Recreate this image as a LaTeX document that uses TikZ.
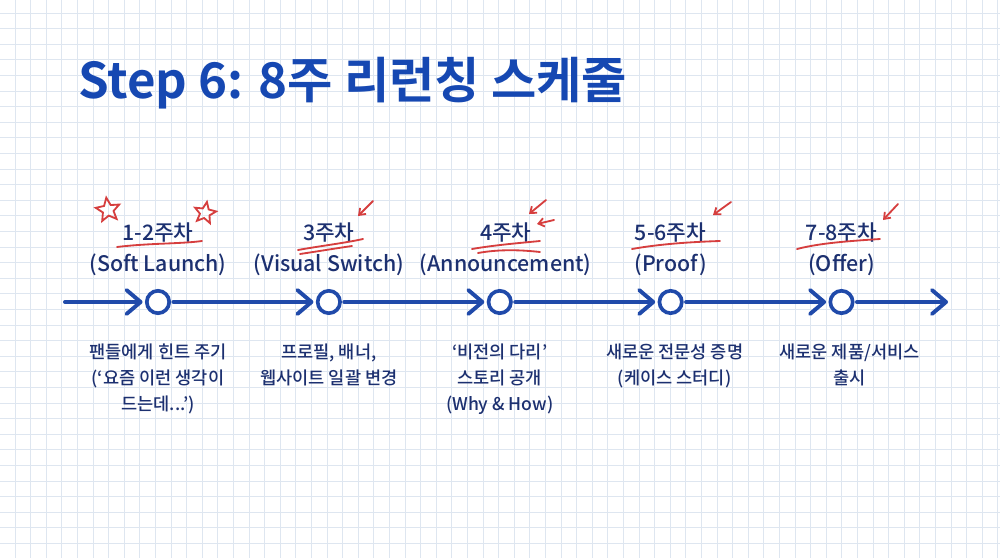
\documentclass[tikz,border=0pt]{standalone}
\usepackage{fontspec}
\setmainfont{Noto Sans CJK KR}[BoldFont={Noto Sans CJK KR Bold}]
\newfontfamily\medfont{Noto Sans CJK KR Medium}
\usepackage{tikz}
\usetikzlibrary{shapes.geometric,arrows.meta,positioning,calc}
\definecolor{titleBlue}{RGB}{22,72,178}
\definecolor{lineBlue}{RGB}{32,74,170}
\definecolor{inkNavy}{RGB}{28,48,112}
\definecolor{markRed}{RGB}{214,62,62}
\definecolor{gridBlue}{RGB}{222,230,240}

\begin{document}
\begin{tikzpicture}[
    x=0.025cm, y=-0.025cm,
    node distance=0.26cm and 3.5cm,
    every node/.style={align=center, inner sep=0pt},
    titleNode/.style={font=\fontsize{35}{42}\selectfont\bfseries, text=titleBlue, anchor=base west},
    stopNode/.style={circle, draw=lineBlue, line width=2.6pt, fill=white, minimum size=0.56cm, outer sep=3pt},
    weekLbl/.style={font=\medfont\fontsize{15.2}{22}\selectfont, text=inkNavy},
    taskLbl/.style={font=\medfont\fontsize{12.5}{18.5}\selectfont, text=inkNavy},
    timeArrow/.style={-{Straight Barb[length=10pt, width=17pt, round]}, line width=2.8pt, draw=lineBlue, line cap=round},
    redMark/.style={draw=markRed, line width=1.3pt, line cap=round},
    redArrow/.style={-{Straight Barb[length=4pt, width=6pt]}, draw=markRed, line width=1.3pt, line cap=round},
    redStar/.style={star, star points=5, star point ratio=2.2, draw=markRed, line width=1.3pt, minimum size=0.62cm}
]

% Paper
\fill[white] (0,0) rectangle (1000,558);
\useasboundingbox (0,0) rectangle (1000,558);
\foreach \gx in {15,30.6,...,1000} \draw[gridBlue, line width=0.5pt] (\gx,0) -- (\gx,558);
\foreach \gy in {13,28.6,...,558} \draw[gridBlue, line width=0.5pt] (0,\gy) -- (1000,\gy);

% Title
\node (title) [titleNode] at (78,99) {Step 6: 8주 리런칭 스케줄};

% Timeline stops
\node (c1) [stopNode] at (158,302) {};
\node (c2) [stopNode, right=of c1] {};
\node (c3) [stopNode, right=of c2] {};
\node (c4) [stopNode, right=of c3] {};
\node (c5) [stopNode, right=of c4] {};
\coordinate (lineStart) at (65,302);
\coordinate (lineEnd) at (948,302);

% Week labels
\node (w1) [weekLbl, above=of c1] {1-2주차\\(Soft Launch)};
\node (w2) [weekLbl, above=of c2] {3주차\\(Visual Switch)};
\node (w3) [weekLbl, above=of c3, xshift=0.15cm] {4주차\\(Announcement)};
\node (w4) [weekLbl, above=of c4] {5-6주차\\(Proof)};
\node (w5) [weekLbl, above=of c5] {7-8주차\\(Offer)};

% Task labels
\node (t1) [taskLbl, below=0.66cm of c1] {팬들에게 힌트 주기\\(‘요즘 이런 생각이\\드는데...’)};
\node (t2) [taskLbl, below=0.66cm of c2] {프로필, 배너,\\웹사이트 일괄 변경};
\node (t3) [taskLbl, below=0.66cm of c3] {‘비전의 다리’\\스토리 공개\\(Why \& How)};
\node (t4) [taskLbl, below=0.66cm of c4, xshift=0.1cm] {새로운 전문성 증명\\(케이스 스터디)};
\node (t5) [taskLbl, below=0.66cm of c5, xshift=0.2cm] {새로운 제품/서비스\\출시};

% Connectors
\draw [timeArrow] (lineStart) -- (c1);
\draw [timeArrow] (c1) -- (c2);
\draw [timeArrow] (c2) -- (c3);
\draw [timeArrow] (c3) -- (c4);
\draw [timeArrow] (c4) -- (c5);
\draw [timeArrow] (c5) -- (lineEnd);

% Red marks
\node (s1) [redStar, rotate=8] at (108,210) {};
\node (s2) [redStar, rotate=-10, minimum size=0.56cm] at (205,213) {};
\draw [redMark] (117,247) .. controls (150,243) and (180,244) .. (202,241);
\draw [redMark] (298,250) .. controls (320,246) and (345,243) .. (363,239);
\draw [redMark] (300,254) .. controls (320,251) and (338,248) .. (352,246);
\draw [redMark] (472,249) .. controls (495,245) and (520,243) .. (540,241);
\draw [redMark] (478,253) .. controls (500,249) and (522,250) .. (540,252);
\draw [redMark] (632,249) .. controls (660,244) and (690,242) .. (720,241);
\draw [redMark] (797,249) .. controls (820,243) and (850,241) .. (880,239);
\draw [redArrow] (373,201) -- (358,216);
\draw [redArrow] (546,200) -- (529,214);
\draw [redArrow] (554,220) -- (537,224);
\draw [redArrow] (731,202) -- (713,215);
\draw [redArrow] (898,204) -- (883,220);

\end{tikzpicture}
\end{document}
